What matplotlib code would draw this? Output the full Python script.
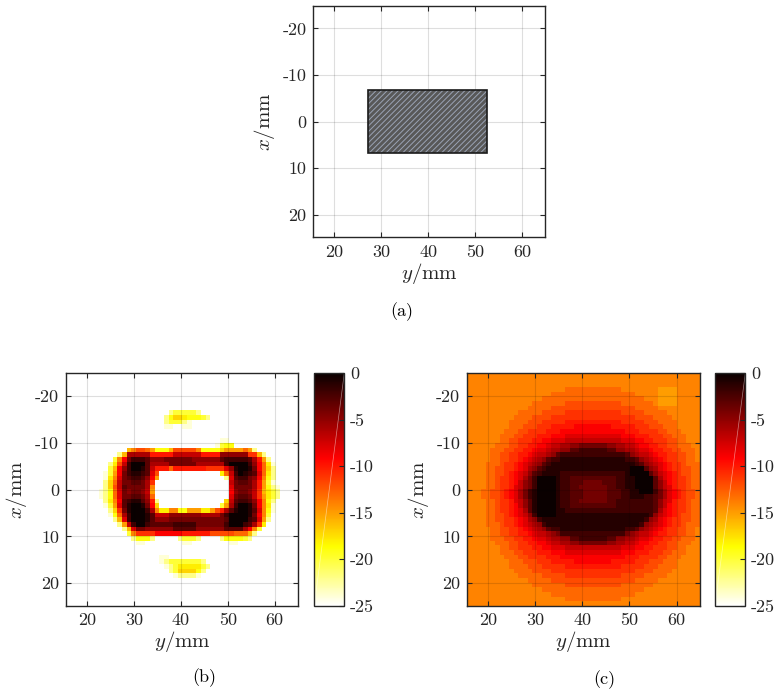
import numpy as np
import matplotlib
matplotlib.use("Agg")
import matplotlib.pyplot as plt
from matplotlib.patches import Rectangle

plt.rcParams["font.family"] = ["cmr10", "DejaVu Serif"]
plt.rcParams["mathtext.fontset"] = "cm"
plt.rcParams["axes.unicode_minus"] = False
plt.rcParams["axes.formatter.use_mathtext"] = True
plt.rcParams["hatch.linewidth"] = 0.7

# axis ranges (mm) and ticks
y_range = (15.5, 65.0)
x_range = (-24.8, 24.8)
y_ticks = [20, 30, 40, 50, 60]
x_ticks = [-20, -10, 0, 10, 20]
cbar_ticks = [0, -5, -10, -15, -20, -25]
db_range = (-25, 0)

# target in (a)
target_y = (27.2, 52.5)
target_x = (-6.7, 6.7)

# image rows (top row = x -25 mm), run-length coded "<count><code>"
# code: a..y -> 0..-24 dB, "." -> -25 dB
rows_b = [
    "50.", "50.", "50.", "50.", "50.", "50.", "50.", "50.",
    "22. 1w 5u 1w 21.",
    "21. 1w 1t 2r 1s 3t 1u 1w 19.",
    "21. 1w 3u 1w 1y 23.",
    "21. 2y 2. 2y 23.",
    "50.", "50.",
    "33. 2y 15.",
    "32. 1y 1u 2t 14.",
    "13. 1q 1o 2m 1n 1p 3t 1q 5m 1o 4t 1r 4p 1n 1p 1w 9.",
    "11. 1w 1q 5g 5k 6h 4k 6f 2l 1q 1w 7.",
    "10. 1u 1o 1j 1e 3c 1d 3f 6e 6f 1d 5c 1d 1g 1k 1p 1w 6.",
    "9. 1w 1s 1m 1h 1c 3a 1d 4g 6e 6g 1c 4a 1c 1f 1j 1n 1s 1y 5.",
    "9. 1u 1q 1j 1f 1c 2a 1b 1d 1h 3k 1n 7k 4l 1i 1f 1b 2a 1b 1e 1j 1n 1r 1w 5.",
    "8. 1y 1u 1p 1j 1e 1c 2b 1c 1d 1i 1m 13. 1s 1n 1h 1c 1a 1b 1c 1d 1i 1n 1s 1w 5.",
    "8. 1y 1s 1o 1i 1e 1d 2c 1d 1f 1j 1p 14. 1w 1i 1d 2c 1e 1f 1j 1o 1t 1w 5.",
    "8. 1w 1r 1n 1h 1e 1e 2d 1e 1g 1l 16. 1h 1e 2d 1e 1g 1k 1p 1u 1y 5.",
    "8. 1w 1r 1m 1h 1d 4e 1g 1o 16. 1i 4e 1g 1k 1p 1t 1w 1y 4.",
    "7. 1y 1w 1t 1n 1i 1e 1f 2e 1f 1h 1p 16. 1j 1f 2e 1f 1h 1l 1q 1s 1u 1w 4.",
    "7. 1y 1w 1t 1n 1i 1e 1e 2d 1e 1g 1n 16. 1i 1e 2d 1e 1h 1l 1p 1s 1u 1w 4.",
    "8. 1w 1s 1o 1j 1d 1c 2b 1d 1f 1k 1w 14. 1r 1h 1d 2c 1d 1f 1j 1o 1t 1w 5.",
    "8. 1y 1u 1p 1i 1d 1b 2a 1b 1e 1j 1r 13. 1u 1p 1g 1c 2a 1b 1e 1j 1o 1s 1y 5.",
    "9. 1w 1r 1l 1e 1b 3a 1c 1g 1o 2s 2o 2t 3p 2s 1p 1m 1k 1g 1d 1b 2a 1b 1d 1i 1o 1t 1y 5.",
    "9. 1y 1t 1n 1g 1c 3a 1b 1d 3h 7f 4g 1e 1c 4a 1b 1e 1j 1o 1u 6.",
    "10. 1w 1q 1i 1c 3a 1b 1d 3f 7e 5e 1d 4a 1c 1d 1i 1p 1w 6.",
    "11. 1w 1p 1h 1c 2a 1c 5d 5c 6e 1c 3a 1c 1d 1g 1l 1s 7.",
    "12. 1w 1q 1i 2e 6f 5d 6f 4d 1g 1j 1o 1u 8.",
    "13. 1u 1o 4l 6j 6k 5m 3n 1q 1w 9.",
    "14. 1w 3t 1w 5. 1w 3u 1w 4. 1w 4t 1u 1w 10.",
    "15. 2y 8. 2y 8. 2y 13.",
    "50.", "50.",
    "20. 2y 28.",
    "20. 1y 1w 7u 1w 20.",
    "21. 1y 1w 1u 5s 1u 1w 19.",
    "22. 1w 1u 4r 1t 1w 20.",
    "23. 1y 4w 1y 21.",
    "50.", "50.", "50.", "50.", "50.", "50.",
]

rows_c = [
    "50o", "50o", "50o",
    "21o 12n 8o 4p 5o",
    "18o 18n 5o 4p 5o",
    "16o 22n 3o 4p 5o",
    "14o 7n 12m 7n 1o 4p 5o",
    "13o 5n 18m 5n 9o",
    "11o 5n 5m 12l 5m 5n 7o",
    "10o 4n 4m 18l 4m 4n 6o",
    "9o 4n 3m 5l 12k 5l 3m 4n 5o",
    "9o 3n 3m 3l 5k 8j 5k 3l 3m 3n 5o",
    "8o 3n 2m 4l 3k 14j 3k 4l 2m 3n 4o",
    "7o 3n 2m 3l 3k 3j 12i 3j 3k 3l 2m 3n 3o",
    "7o 2n 2m 3l 2k 2j 3i 12h 3i 2j 2k 3l 2m 2n 3o",
    "6o 3n 2m 2l 2k 2j 1i 2h 2g 2f 6e 2f 2g 2h 1i 2j 2k 2l 2m 3n 2o",
    "5o 3n 2m 2l 2k 1j 2i 1h 2g 2f 2d 6c 2d 2f 2g 1h 2i 1j 2k 2l 2m 3n 1o",
    "5o 2n 2m 2l 2k 1j 1i 2h 1g 1f 1d 14c 1d 1f 1g 2h 1i 1j 2k 2l 2m 2n 1o",
    "5o 2n 2m 2l 1k 1j 1i 1h 1g 1f 1d 2c 14b 2c 1d 1f 1g 1h 1i 1j 1k 2l 2m 2n 1o",
    "4o 3n 1m 2l 1k 1j 1i 1h 1g 1f 1d 1c 18b 1c 1d 1f 1g 1h 1i 1j 1k 2l 1m 3n",
    "4o 2n 2m 2l 1k 1j 1i 1g 1f 1d 1c 18b 3a 1d 1f 1g 1i 1j 1k 2l 2m 2n",
    "4o 2n 2m 1l 1k 1j 1i 1h 1f 1d 1c 4b 2c 10c 2c 1b 4a 1d 1f 1h 1i 1j 1k 1l 2m 2n",
    "4o 2n 1m 2l 1k 1j 1i 1g 1e 1c 4a 1b 2c 10d 2c 2b 4a 1d 1g 1i 1j 1k 2l 1m 2n",
    "4o 2n 1m 2l 1k 1j 1h 1f 1e 1c 4a 1b 2c 3d 4e 3d 2c 2b 4a 1d 1f 1h 1j 1k 2l 1m 2n",
    "4o 2n 1m 2l 1k 1i 1h 1f 1e 1c 4a 1b 2c 2d 6e 2d 2c 2b 4a 1d 1f 1h 1i 1k 2l 1m 2n",
    "3o 2n 2m 1l 1k 1j 1i 1g 1e 1c 1b 4a 1b 2c 3d 5e 3d 2c 2b 3a 1c 1e 1g 1i 1j 1k 1l 2m 1n",
    "3o 2n 2m 1l 1k 1j 1i 1g 1e 1c 1b 4a 1b 2c 3d 5e 3d 2c 3b 2c 1d 1e 1g 1i 1j 1k 1l 2m 1n",
    "4o 2n 1m 2l 1k 1i 1h 1f 1d 1b 4a 1b 2c 2d 6e 2d 8c 1d 1f 1h 1i 1k 2l 1m 2n",
    "4o 2n 1m 2l 1k 1j 1h 1f 1d 1b 4a 1b 2c 10d 8c 1d 1f 1h 1j 1k 2l 1m 2n",
    "4o 2n 1m 2l 1k 1j 1i 1g 1d 1b 4a 2b 19c 1d 1g 1i 1j 1k 2l 1m 2n",
    "4o 2n 2m 1l 1k 1j 1i 1h 1f 1c 4a 20b 1c 1f 1h 1i 1j 1k 1l 2m 2n",
    "4o 2n 2m 2l 1k 1j 1i 1g 1f 1c 22b 1c 1f 1g 1i 1j 1k 2l 2m 2n",
    "4o 3n 1m 2l 1k 1j 1i 1h 1g 1f 1c 20b 1c 1f 1g 1h 1i 1j 1k 2l 1m 3n",
    "5o 2n 2m 2l 1k 1j 1i 1h 1g 1f 1d 2c 14b 2c 1d 1f 1g 1h 1i 1j 1k 2l 2m 2n 1o",
    "5o 2n 2m 2l 2k 1j 1i 2h 1g 1f 1e 14c 1e 1f 1g 2h 1i 1j 2k 2l 2m 2n 1o",
    "5o 3n 2m 2l 2k 1j 2i 1h 2g 2f 2d 6c 2d 2f 2g 1h 2i 1j 2k 2l 2m 3n 1o",
    "6o 3n 2m 2l 2k 2j 1i 2h 2g 2f 6e 2f 2g 2h 1i 2j 2k 2l 2m 3n 2o",
    "7o 2n 2m 3l 2k 2j 3i 12h 3i 2j 2k 3l 2m 2n 3o",
    "7o 3n 2m 3l 3k 3j 12i 3j 3k 3l 2m 3n 3o",
    "8o 3n 2m 4l 3k 14j 3k 4l 2m 3n 4o",
    "9o 3n 3m 3l 5k 8j 5k 3l 3m 3n 5o",
    "9o 4n 3m 5l 12k 5l 3m 4n 5o",
    "10o 4n 4m 18l 4m 4n 6o",
    "11o 5n 5m 12l 5m 5n 7o",
    "13o 5n 18m 5n 9o",
    "14o 7n 12m 7n 10o",
    "16o 22n 12o",
    "18o 18n 14o",
    "21o 12n 17o",
    "50o",
]


def decode(rows, width=50):
    grid = []
    for row in rows:
        vals = []
        for tok in row.split():
            n, c = int(tok[:-1]), tok[-1]
            v = -25.0 if c == "." else -float(ord(c) - ord("a"))
            vals += [v] * n
        vals = vals[:width] + [vals[-1]] * (width - len(vals))
        grid.append(vals)
    return np.array(grid)


def style_axes(ax):
    ax.set_xlim(*y_range)
    ax.set_ylim(x_range[1], x_range[0])
    ax.set_xticks(y_ticks, labels=[str(v) for v in y_ticks])
    ax.set_yticks(x_ticks, labels=[str(v) for v in x_ticks])
    ax.tick_params(direction="in", length=3.5, width=0.8, top=True, right=True,
                   labelsize=13, pad=5, colors="#262626")
    ax.set_axisbelow(True)
    ax.grid(True, color="black", alpha=0.13, lw=0.8)
    for s in ax.spines.values():
        s.set_linewidth(1.0)
        s.set_color("#262626")
    ax.set_xlabel(r"$y/\mathrm{mm}$", fontsize=15, labelpad=1, color="#262626")
    ax.set_ylabel(r"$x/\mathrm{mm}$", fontsize=15, labelpad=4, color="#262626")


def add_cbar(fig, im, rect):
    cax = fig.add_axes(rect)
    cb = fig.colorbar(im, cax=cax)
    cb.set_ticks(cbar_ticks, labels=[str(t) for t in cbar_ticks])
    cax.tick_params(direction="in", length=3.5, width=0.8, labelsize=13, pad=4,
                    colors="#262626")
    cb.outline.set_linewidth(1.0)
    cb.outline.set_edgecolor("#262626")
    cax.plot([0, 1], [0, 1], transform=cax.transAxes, color="white", lw=0.5, alpha=0.5)
    return cb


fig = plt.figure(figsize=(7.81, 6.96), dpi=100)

# (a) target layout
ax_a = fig.add_axes([0.4012, 0.659, 0.2971, 0.3323])
w = target_y[1] - target_y[0]
h = target_x[1] - target_x[0]
ax_a.add_patch(Rectangle((target_y[0], target_x[0]), w, h, facecolor="#585858",
                         edgecolor="none", zorder=2))
ax_a.add_patch(Rectangle((target_y[0], target_x[0]), w, h, fill=False,
                         edgecolor="#9aa3b5", hatch="//////", lw=0, zorder=3))
ax_a.add_patch(Rectangle((target_y[0], target_x[0]), w, h, fill=False,
                         edgecolor="#1a1a1a", lw=1.2, zorder=4))
style_axes(ax_a)
fig.text(0.5143, 0.5522, "(a)", ha="center", va="center", fontsize=13)

extent = [y_range[0], y_range[1], x_range[1], x_range[0]]

# (b)
data_b = decode(rows_b)
ax_b = fig.add_axes([0.0845, 0.1297, 0.2974, 0.3339])
im_b = ax_b.imshow(data_b, cmap="hot_r", vmin=db_range[0], vmax=db_range[1],
                   extent=extent, aspect="auto", interpolation="nearest")
style_axes(ax_b)
add_cbar(fig, im_b, [0.4024, 0.1297, 0.0384, 0.3339])
fig.text(0.2612, 0.0259, "(b)", ha="center", va="center", fontsize=13)

# (c)
data_c = decode(rows_c)
ax_c = fig.add_axes([0.5983, 0.1297, 0.2980, 0.3339])
im_c = ax_c.imshow(data_c, cmap="hot_r", vmin=db_range[0], vmax=db_range[1],
                   extent=extent, aspect="auto", interpolation="nearest")
style_axes(ax_c)
add_cbar(fig, im_c, [0.9155, 0.1297, 0.0388, 0.3339])
fig.text(0.7734, 0.023, "(c)", ha="center", va="center", fontsize=13)

fig.savefig("out.png", dpi=100)
